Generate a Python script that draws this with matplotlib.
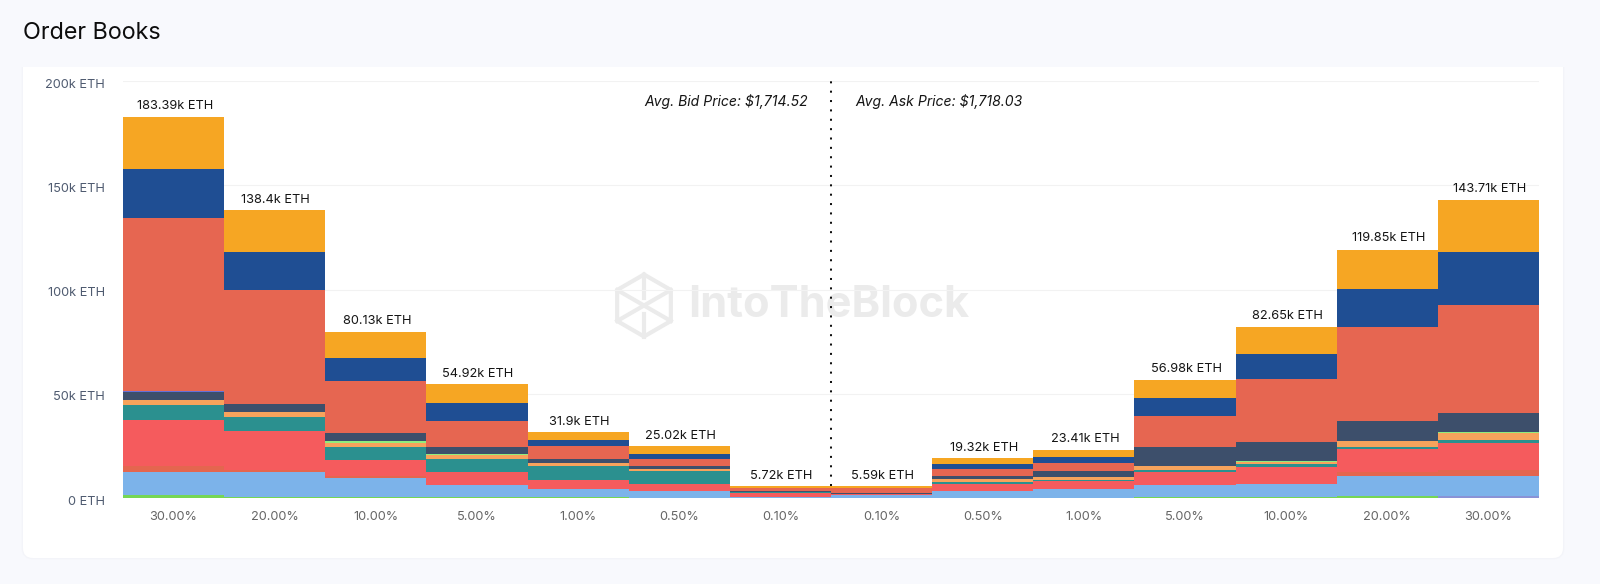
import numpy as np
import matplotlib
matplotlib.use("Agg")
import matplotlib.pyplot as plt
from matplotlib.patches import FancyBboxPatch, Rectangle
from matplotlib.transforms import ScaledTranslation

plt.rcParams["font.family"] = ["Inter", "DejaVu Sans"]

# values in thousands of ETH, bottom of the stack first
levels = ["30.00%", "20.00%", "10.00%", "5.00%", "1.00%", "0.50%", "0.10%",
          "0.10%", "0.50%", "1.00%", "5.00%", "10.00%", "20.00%", "30.00%"]
totals = [183.39, 138.4, 80.13, 54.92, 31.9, 25.02, 5.72,
          5.59, 19.32, 23.41, 56.98, 82.65, 119.85, 143.71]
total_labels = ["183.39k ETH", "138.4k ETH", "80.13k ETH", "54.92k ETH", "31.9k ETH",
                "25.02k ETH", "5.72k ETH", "5.59k ETH", "19.32k ETH", "23.41k ETH",
                "56.98k ETH", "82.65k ETH", "119.85k ETH", "143.71k ETH"]

periwinkle = [0, 0, 0, 0, 0, 0, 0, 0, 0, 0, 0, 0, 0, 0.8]
green = [1.6, 0.5, 0.3, 0.3, 0.3, 0.2, 0.05, 0.05, 0.2, 0.2, 0.3, 0.3, 1.0, 0]
light_blue = [11.0, 12.1, 9.5, 6.0, 4.2, 3.3, 0.55, 1.35, 3.3, 4.0, 6.0, 6.6, 9.7, 9.9]
rust = [2.9, 0.8, 0.6, 0, 0, 0, 0, 0, 0, 0, 0, 0, 1.9, 2.7]
red = [22.1, 18.9, 7.8, 6.2, 4.0, 3.4, 2.0, 0.4, 3.4, 3.8, 6.2, 7.8, 10.9, 13.0]
teal = [6.8, 6.5, 6.4, 6.3, 6.7, 6.1, 0.1, 0.1, 0.8, 0.8, 0.9, 1.6, 1.0, 1.4]
light_orange = [2.4, 2.4, 1.9, 1.7, 1.6, 1.1, 0.1, 0.1, 1.2, 1.2, 1.9, 1.2, 3.0, 3.2]
lime = [0, 0, 0.7, 0.4, 0, 0, 0, 0, 0, 0, 0, 0.4, 0, 0.7]
slate = [4.2, 3.8, 3.8, 3.7, 2.1, 1.1, 0.6, 0.6, 1.8, 2.9, 9.0, 9.0, 9.6, 8.9]
purple = [0.4, 0, 0, 0, 0, 0, 0, 0, 0, 0, 0, 0, 0, 0]
coral = [83.2, 55.0, 25.1, 12.5, 5.9, 3.5, 1.5, 2.2, 3.3, 3.9, 14.9, 30.0, 44.8, 52.0]
navy = [23.5, 18.1, 11.1, 8.3, 3.0, 2.6, 0.1, 0.1, 2.4, 3.0, 8.8, 12.2, 18.6, 25.5]
orange = [24.6, 19.9, 12.3, 9.2, 3.9, 3.6, 0.72, 0.69, 2.8, 3.4, 8.6, 12.9, 18.7, 25.0]

series = [
    (periwinkle, "#8a93d6"),
    (green, "#76d654"),
    (light_blue, "#7cb3ea"),
    (rust, "#e4664f"),
    (red, "#f55b5d"),
    (teal, "#2b908f"),
    (light_orange, "#f7a35c"),
    (lime, "#90ed7d"),
    (slate, "#3d4f6b"),
    (purple, "#6670d8"),
    (coral, "#e66651"),
    (navy, "#1f4e93"),
    (orange, "#f6a623"),
]

y_ticks = [0, 50, 100, 150, 200]
y_tick_labels = ["0 ETH", "50k ETH", "100k ETH", "150k ETH", "200k ETH"]
bid_label = "Avg. Bid Price: $1,714.52"
ask_label = "Avg. Ask Price: $1,718.03"

W, H = 1600, 584
BG = "#f8f9fd"
WATERMARK = "#ebebeb"

fig = plt.figure(figsize=(W / 100, H / 100), dpi=100, facecolor=BG)

# page layer in pixel coordinates: card, title, watermark
bg = fig.add_axes([0, 0, 1, 1], zorder=0)
bg.set_xlim(0, W)
bg.set_ylim(H, 0)
bg.axis("off")
bg.add_patch(FancyBboxPatch((23, 30), 1540, 528, boxstyle="round,pad=0,rounding_size=10",
                            fc="#f1f2f7", ec="#f1f2f7", lw=2, alpha=0.6))
bg.add_patch(FancyBboxPatch((23, 30), 1540, 528, boxstyle="round,pad=0,rounding_size=10",
                            fc="white", ec="none"))
bg.add_patch(Rectangle((0, 0), W, 67, fc=BG, ec="none"))
bg.text(23, 33, "Order Books", fontsize=16.8, color="#0d0d0d", va="center", ha="left")

# logo, a hexagon with the folded cube lines inside
cx, cy, r = 644, 305.5, 31
angles = np.radians([90, 30, -30, -90, -150, 150, 90])
hx = cx + r * np.cos(angles)
hy = cy - r * np.sin(angles)
bg.plot(hx, hy, color=WATERMARK, lw=3.0, solid_joinstyle="miter")
bg.plot([hx[5], hx[2]], [hy[5], hy[2]], color=WATERMARK, lw=3.0)
bg.plot([hx[4], hx[1]], [hy[4], hy[1]], color=WATERMARK, lw=3.0)
bg.plot([cx, cx], [hy[0], cy - 8], color=WATERMARK, lw=3.0)
bg.plot([cx, cx], [cy + 8, hy[3]], color=WATERMARK, lw=3.0)
bg.text(688, 305.5, "IntoTheBlock", fontsize=31.2, fontweight="bold", color=WATERMARK,
        va="center", ha="left")

ax = fig.add_axes([123 / W, (H - 498) / H, 1416 / W, 416.7 / H], zorder=1)
ax.patch.set_visible(False)

x = np.arange(len(levels))
bottom = np.zeros(len(levels))
for values, color in series:
    ax.bar(x, values, width=1.0, bottom=bottom, color=color, linewidth=0, zorder=3)
    bottom = bottom + np.array(values)

for xi, total, label in zip(x, totals, total_labels):
    ax.annotate(label, (xi, total), xytext=(0.8, 2.8), textcoords="offset points",
                ha="center", va="bottom", fontsize=9.2, color="#151515", zorder=4)

ax.plot([6.5, 6.5], [totals[6], 200], color="#111111", lw=1.45,
        linestyle=(0, (1, 3.65)), zorder=2)
ax.annotate(bid_label, (6.5, 190.3), xytext=(-16.5, 0), textcoords="offset points",
            ha="right", va="center", fontsize=10.1, style="italic", color="#151515")
ax.annotate(ask_label, (6.5, 190.3), xytext=(17.5, 0), textcoords="offset points",
            ha="left", va="center", fontsize=10.1, style="italic", color="#151515")

ax.set_xlim(-0.5, 13.5)
ax.set_ylim(0, 200)
ax.set_xticks(x, levels)
ax.set_yticks(y_ticks, y_tick_labels)
ax.tick_params(axis="x", length=0, pad=9, labelsize=9.2, labelcolor="#666666")
ax.tick_params(axis="y", length=0, pad=13, labelsize=9.2, labelcolor="#4f5b70")
# y labels sit a little under their gridlines
nudge = ScaledTranslation(0, -1.5 / 72, fig.dpi_scale_trans)
for tick_label in ax.get_yticklabels():
    tick_label.set_transform(tick_label.get_transform() + nudge)
ax.grid(axis="y", color="#f2f2f2", lw=0.8, zorder=1)
ax.set_axisbelow(True)
for spine in ax.spines.values():
    spine.set_visible(False)

fig.savefig("out.png", dpi=100, facecolor=BG)
